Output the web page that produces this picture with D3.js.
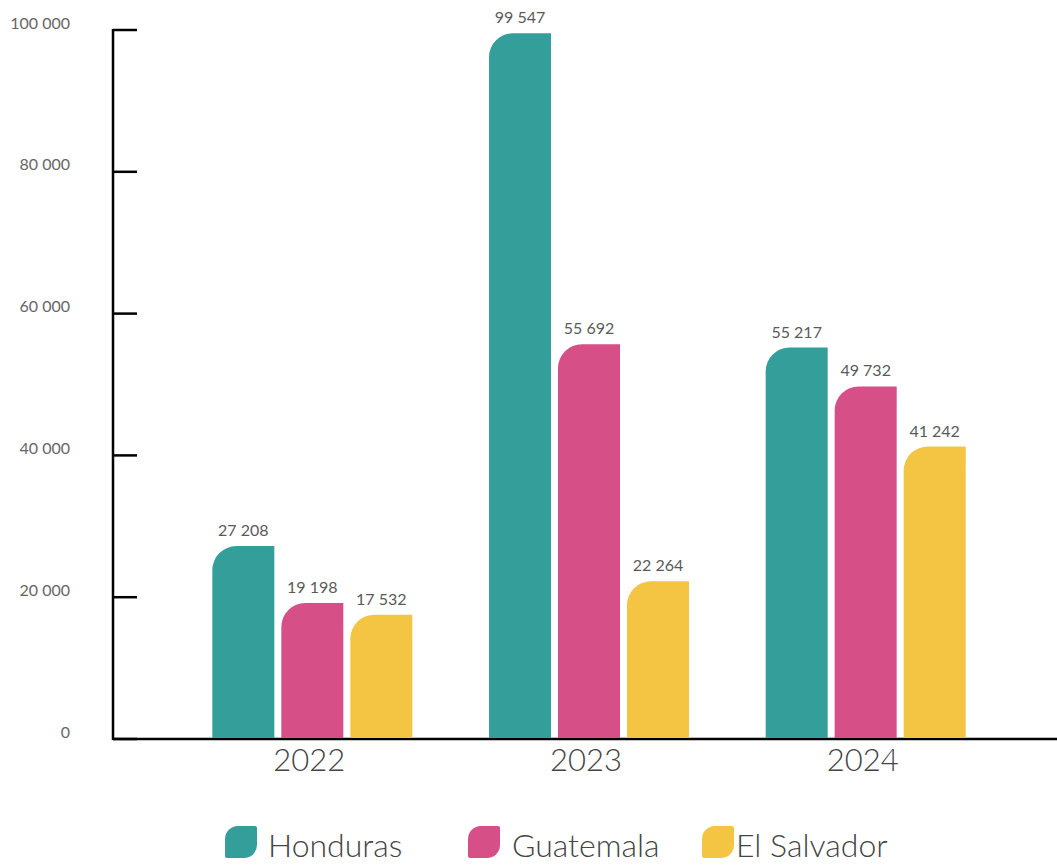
<!DOCTYPE html>
<html>
<head>
<meta charset="utf-8">
<script src="https://cdn.jsdelivr.net/npm/d3@7"></script>
<style>
  body { margin: 0; background: #fff; }
  svg { display: block; font-family: Lato, "Open Sans", sans-serif; }
</style>
</head>
<body>
<svg id="chart" width="1057" height="865"></svg>
<script>
// data
var years = ["2022", "2023", "2024"];
var countries = ["Honduras", "Guatemala", "El Salvador"];
var honduras = [27208, 99547, 55217];
var guatemala = [19198, 55692, 49732];
var elSalvador = [17532, 22264, 41242];
var yTicks = [0, 20000, 40000, 60000, 80000, 100000];
var colors = ["#349e9a", "#d64f86", "#f4c542"];

var series = [honduras, guatemala, elSalvador];
var svg = d3.select("#chart");
var width = 1057, height = 865;

var fmt = d3.formatLocale({ decimal: ",", thousands: " ", grouping: [3], currency: ["", ""] }).format(",d");

// scales
var y = d3.scaleLinear().domain([0, 100000]).range([739, 30]);
var x0 = d3.scaleBand().domain(years).range([174, 1004]);
var x1 = d3.scaleBand().domain(countries).range([0, 200]).paddingInner(0.1014);

// y axis
var axisX = 113;
svg.append("line")
    .attr("x1", axisX).attr("x2", axisX)
    .attr("y1", y(100000) - 1).attr("y2", y(0) + 1)
    .style("stroke", "#000").style("stroke-width", 2.5);
svg.selectAll("line.tick").data(yTicks).enter().append("line")
    .attr("class", "tick")
    .attr("x1", axisX).attr("x2", axisX + 24)
    .attr("y1", function (d) { return y(d); })
    .attr("y2", function (d) { return y(d); })
    .style("stroke", "#000").style("stroke-width", 2.5);
svg.selectAll("text.ylab").data(yTicks).enter().append("text")
    .attr("class", "ylab")
    .attr("x", 70)
    .attr("y", function (d) { return y(d) - 7; })
    .attr("dy", "0.35em")
    .attr("text-anchor", "end")
    .style("font-size", "16px")
    .style("fill", "#666")
    .text(function (d) { return fmt(d); });

// x axis
svg.append("line")
    .attr("x1", axisX).attr("x2", width)
    .attr("y1", y(0)).attr("y2", y(0))
    .style("stroke", "#000").style("stroke-width", 2.5);

// bars, top-left corner rounded
function barPath(bx, top, w, bottom) {
    var r = Math.min(24, bottom - top);
    var p = d3.path();
    p.moveTo(bx, bottom);
    p.lineTo(bx, top + r);
    p.arcTo(bx, top, bx + r, top, r);
    p.lineTo(bx + w, top);
    p.lineTo(bx + w, bottom);
    p.closePath();
    return p.toString();
}

var groups = svg.selectAll("g.year").data(years).enter().append("g")
    .attr("class", "year")
    .attr("transform", function (d) { return "translate(" + (x0(d) + (x0.bandwidth() - 200) / 2) + ",0)"; });

groups.each(function (yr, i) {
    var g = d3.select(this);
    var vals = countries.map(function (c, k) { return { c: c, k: k, v: series[k][i] }; });
    g.selectAll("path").data(vals).enter().append("path")
        .attr("d", function (d) { return barPath(x1(d.c), y(d.v), x1.bandwidth(), y(0) - 1); })
        .style("fill", function (d) { return colors[d.k]; });
    g.selectAll("text").data(vals).enter().append("text")
        .attr("x", function (d) { return x1(d.c) + x1.bandwidth() / 2; })
        .attr("y", function (d) { return y(d.v) - 10; })
        .attr("text-anchor", "middle")
        .style("font-size", "16px")
        .style("fill", "#5a5a5a")
        .text(function (d) { return fmt(d.v); });
});

// year labels
svg.selectAll("text.year").data(years).enter().append("text")
    .attr("class", "year")
    .attr("x", function (d) { return x0(d) + x0.bandwidth() / 2 - 3; })
    .attr("y", 771)
    .attr("text-anchor", "middle")
    .style("font-size", "31px")
    .style("font-weight", 300)
    .style("fill", "#444")
    .text(function (d) { return d; });

// legend
var legendX = [225, 468, 702];
function leaf(w, h) {
    var a = 2, b = 13;
    var p = d3.path();
    p.moveTo(b, 0);
    p.lineTo(w - a, 0);
    p.arcTo(w, 0, w, a, a);
    p.lineTo(w, h - b);
    p.arcTo(w, h, w - b, h, b);
    p.lineTo(a, h);
    p.arcTo(0, h, 0, h - a, a);
    p.lineTo(0, b);
    p.arcTo(0, 0, b, 0, b);
    p.closePath();
    return p.toString();
}
var leg = svg.selectAll("g.legend").data(countries).enter().append("g")
    .attr("class", "legend")
    .attr("transform", function (d, i) { return "translate(" + legendX[i] + ",826)"; });
leg.append("path")
    .attr("d", leaf(32, 32))
    .style("fill", function (d, i) { return colors[i]; });
leg.append("text")
    .attr("x", function (d, i) { return i == 2 ? 34 : (i == 1 ? 44 : 43); })
    .attr("y", 31)
    .style("font-size", "32px")
    .style("font-weight", 300)
    .style("fill", "#444")
    .text(function (d) { return d; });
</script>
</body>
</html>
